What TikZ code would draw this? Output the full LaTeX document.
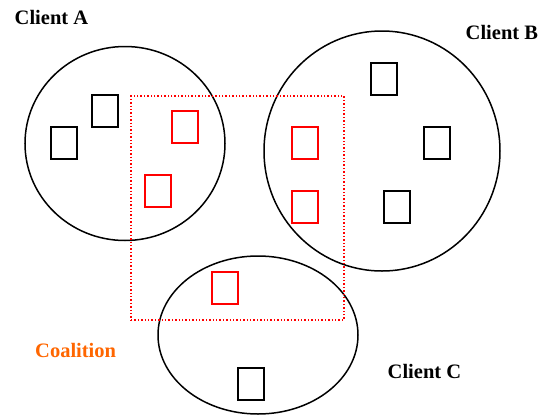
\documentclass[tikz,border=0pt]{standalone}
\usepackage{fontspec}
\setmainfont{Liberation Serif}
\usetikzlibrary{shapes.geometric}
\definecolor{coalorange}{RGB}{255,102,0}
\tikzset{
  client/.style={ellipse, draw=black, line width=1.5pt, inner sep=0pt},
  blksq/.style={rectangle, draw=black, line width=1.5pt, minimum width=26pt, minimum height=32pt, inner sep=0pt},
  redsq/.style={rectangle, draw=red, line width=1.5pt, minimum width=26pt, minimum height=32pt, inner sep=0pt},
  coal/.style={rectangle, draw=red, dotted, line width=1.4pt, inner sep=0pt},
  lbl/.style={font=\fontsize{20.5}{24}\selectfont\bfseries, inner sep=0pt, anchor=base west}
}
\begin{document}
\begin{tikzpicture}[x=1pt,y=-1pt]
\useasboundingbox (0,0) rectangle (542,416);
% clients
\node[client, minimum width=200pt, minimum height=194pt] (ca) at (125,143.5) {};
\node[client, minimum width=236pt, minimum height=240pt] (cb) at (382,151) {};
\node[client, minimum width=200pt, minimum height=158pt] (cc) at (258,335) {};
% coalition
\node[coal, minimum width=213pt, minimum height=224pt] (co) at (237.5,208) {};
% squares
\node[blksq] (a1) at (105,111) {};
\node[blksq] (a2) at (64,143) {};
\node[redsq] (r1) at (185,127) {};
\node[redsq] (r2) at (158,191) {};
\node[redsq] (r3) at (305,143) {};
\node[redsq] (r4) at (305,207) {};
\node[blksq] (b1) at (384,79) {};
\node[blksq] (b2) at (437,143) {};
\node[blksq] (b3) at (397,207) {};
\node[redsq] (r5) at (225,288) {};
\node[blksq] (c1) at (251,384) {};
% labels
\node[lbl] (la) at (14.5,24.5) {Client A};
\node[lbl] (lb) at (465.5,39) {Client B};
\node[lbl] (lc) at (387.5,378) {Client C};
\node[lbl, text=coalorange] (lco) at (35,357) {Coalition};
\end{tikzpicture}
\end{document}
